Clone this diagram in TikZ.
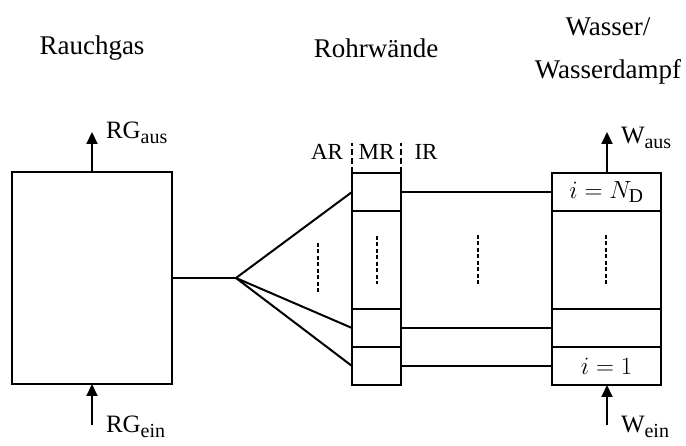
\documentclass[tikz,border=0pt]{standalone}
\usepackage{fontspec}
\setmainfont{Liberation Serif}
\usetikzlibrary{arrows.meta}
\newcommand\mysubtxt[1]{\raisebox{-4.5pt}{\fontsize{20}{20}\selectfont #1}}
\begin{document}
\begin{tikzpicture}[x=1pt,y=-1pt,line width=2pt,
  cell/.style={draw, inner sep=0pt, outer sep=0pt},
  mrcell/.style={cell, minimum width=49pt},
  wcell/.style={cell, minimum width=109pt, font=\fontsize{28}{30}\selectfont},
  arr/.style={-{Triangle[length=12pt,width=11pt]}},
  head/.style={font=\fontsize{27}{43}\selectfont, align=center},
  lbl/.style={font=\fontsize{25}{30}\selectfont, anchor=base west, inner sep=0pt},
  small/.style={font=\fontsize{23}{26}\selectfont, inner sep=0pt},
  dashmark/.style={line width=1.6pt, dash pattern=on 4pt off 2.5pt},
  sepline/.style={line width=1.6pt, dash pattern=on 6pt off 3pt}]
\useasboundingbox (0,0) rectangle (686,446);

% headers
\node[head] (h1) at (92,48) {Rauchgas};
\node[head] (h2) at (376,48) {Rohrwände};
\node[head] (h3) at (608,51) {Wasser/\\Wasserdampf};

% flue gas box
\node[cell, minimum width=160pt, minimum height=212pt] (rg) at (92,278) {};
\coordinate (rgout) at (92,132);
\coordinate (rgin) at (92,425);
\draw[arr] (rg.north) -- (rgout);
\draw[arr] (rgin) -- (rg.south);
\node[lbl] (lrgout) at (105,139) {RG\mysubtxt{aus}};
\node[lbl] (lrgin) at (105,433) {RG\mysubtxt{ein}};

% tube wall column
\node[mrcell, minimum height=38pt] (m4) at (376.5,192) {};
\node[mrcell, minimum height=98pt] (m3) at (376.5,260) {};
\node[mrcell, minimum height=38pt] (m2) at (376.5,328) {};
\node[mrcell, minimum height=38pt] (m1) at (376.5,366) {};

% water column
\node[wcell, minimum height=38pt] (w4) at (606.5,192) {$i = N_{\mathrm{D}}$};
\node[wcell, minimum height=98pt] (w3) at (606.5,260) {};
\node[wcell, minimum height=38pt] (w2) at (606.5,328) {};
\node[wcell, minimum height=38pt] (w1) at (606.5,366) {$i = 1$};
\coordinate (wout) at (607,132);
\coordinate (win) at (607,425);
\draw[arr] (w4.north -| wout) -- (wout);
\draw[arr] (win) -- (w1.south -| win);
\node[lbl] (lwout) at (620,144) {W\mysubtxt{aus}};
\node[lbl] (lwin) at (620,433) {W\mysubtxt{ein}};

% fan
\coordinate (apex) at (236,278);
\draw (rg.east) -- (apex);
\draw (apex) -- (m4.west);
\draw (apex) -- (m2.west);
\draw (apex) -- (m1.west);

% inner lines
\draw (m4.east) -- (w4.west);
\draw (m2.east) -- (w2.west);
\draw (m1.east) -- (w1.west);

% separators and labels
\draw[sepline] (m4.north west) -- ++(0,-30);
\draw[sepline] (m4.north east) -- ++(0,-30);
\node[small] (ar) at (327,152) {AR};
\node[small] (mr) at (376.5,152) {MR};
\node[small] (ir) at (426,152) {IR};

% dots
\draw[dashmark] (318,243) -- (318,293);
\draw[dashmark] (377,236) -- (377,284);
\draw[dashmark] (478,235) -- (478,285);
\draw[dashmark] (606,235) -- (606,285);
\end{tikzpicture}
\end{document}
